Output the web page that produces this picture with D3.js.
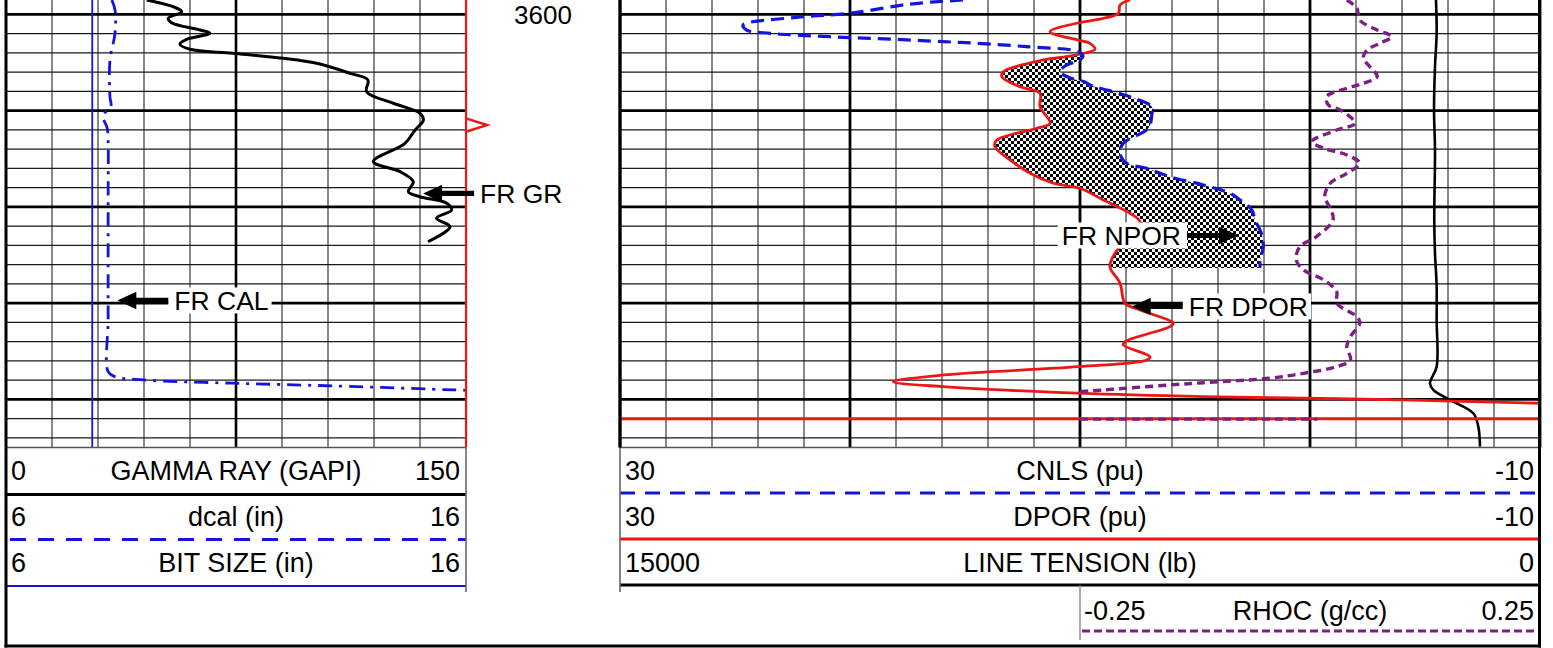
<!DOCTYPE html>
<html><head><meta charset="utf-8">
<script src="https://cdn.jsdelivr.net/npm/d3@7"></script>
<style>
html,body{margin:0;padding:0;background:#fff;}
svg{display:block;}
text{font-family:"Liberation Sans",Arial,Helvetica,sans-serif;}
</style></head><body>
<svg id="c" width="1553" height="648"></svg>
<script>
// ---------------- DATA ----------------
const depthLabels = [3600];

const grDepth = [3598.5,3599.2,3599.72,3600.4,3600.86,3601.62,3601.96,3602.58,3603.07,3603.62,3604.04,3604.56,3605.08,3606.12,3606.81,3608.03,3609.23,3610.27,3610.97,3612.01,3613.39,3615.3,3616.34,3617.38,3618.42,3618.94,3619.63,3620.32,3621.18,3622.06,3623.62];
const grValue = [45.9,54.5,57.3,52.9,54.0,63.3,66.5,58.9,56.7,60.0,74.0,90.3,101.3,112.2,118.0,117.6,126.3,135.0,136.1,133.4,130.1,119.8,128.5,132.8,131.2,135.0,143.7,145.3,140.4,144.8,137.6];

const calDepth = [3598.5,3599.54,3601.93,3604.73,3608.58,3609.51,3610.55,3611.80,3613.05,3619.28,3625.51,3631.75,3637.12,3637.64,3637.98,3638.32,3638.60,3639.02,3639.07];
const calValue = [8.30,8.37,8.37,8.26,8.26,8.28,8.11,8.20,8.22,8.22,8.22,8.22,8.22,8.37,8.98,10.94,13.11,15.76,16.09];

const bitDepth = [3598.5,3645];
const bitValue = [7.875,7.875];

const cnlsDepth = [3598.50,3598.92,3599.88,3600.30,3601.10,3601.62,3601.96,3602.14,3602.38,3602.58,3602.83,3603.00,3603.35,3603.87,3604.32,3604.73,3605.36,3605.98,3606.60,3607.02,3607.33,3608.55,3609.59,3610.45,3611.83,3613.39,3614.43,3615.47,3615.99,3616.86,3617.72,3618.58,3619.28,3620.32,3621.36,3622.92,3624.27,3625.51,3626.34];
const cnlsValue = [15.09,17.39,20.00,22.30,24.65,24.49,23.48,22.32,20.29,18.12,15.94,14.49,12.32,10.07,9.87,10.00,10.65,10.87,10.43,9.78,9.57,7.83,6.88,6.88,7.03,8.12,8.26,7.97,7.10,6.09,4.64,3.48,3.04,2.53,2.39,2.09,2.04,2.17,2.17];

const dporDepth = [3598.50,3599.02,3599.88,3600.40,3600.89,3601.79,3602.66,3603.00,3603.62,3604.01,3604.32,3604.73,3605.95,3606.47,3607.51,3608.19,3609.59,3611.31,3611.83,3613.05,3613.74,3615.12,3616.51,3617.54,3618.06,3619.28,3620.66,3621.57,3623.23,3624.82,3626.21,3627.93,3630.01,3630.71,3632.09,3632.44,3634.00,3634.34,3635.56,3635.90,3636.60,3637.46,3638.16,3638.68,3639.36,3639.72,3639.88,3640.06,3640.40];
const dporValue = [7.83,8.26,8.33,8.99,10.09,11.30,10.09,9.57,9.35,9.78,10.43,11.60,13.33,13.40,12.61,11.74,11.74,11.30,11.88,13.62,13.70,13.04,12.17,11.16,10.00,8.99,7.83,7.39,7.91,8.48,8.70,8.26,8.04,7.39,5.94,6.09,8.04,8.12,6.96,7.10,10.07,15.94,18.12,15.94,10.07,4.65,0.30,-4.04,-10.0];
const dporWrapDepth = [3642.0,3642.0];
const dporWrapValue = [30,-10];

const tensDepth = [3598.50,3601.93,3605.43,3609.93,3614.08,3621.36,3624.79,3628.29,3631.75,3636.60,3638.32,3639.02,3640.06,3641.44,3642.83,3644.91];
const tensValue = [1696,1685,1712,1728,1712,1724,1712,1685,1685,1685,1794,1740,1467,1088,1006,978];

const rhocDepth = [3598.50,3599.36,3600.58,3601.62,3602.31,3603.00,3603.69,3604.56,3605.43,3606.47,3607.15,3607.67,3608.55,3609.41,3609.93,3611.31,3612.01,3613.22,3613.91,3614.60,3615.47,3616.51,3617.54,3618.94,3620.14,3621.36,3623.09,3624.13,3625.51,3626.55,3627.59,3628.81,3630.01,3631.40,3632.09,3633.48,3634.52,3635.90,3636.60,3637.29,3637.81,3638.16,3638.50,3639.02,3639.20];
const rhocValue = [0.040,0.051,0.054,0.073,0.089,0.076,0.062,0.058,0.065,0.073,0.058,0.040,0.018,0.020,0.033,0.049,0.029,0.002,0.015,0.040,0.054,0.040,0.022,0.016,0.022,0.025,0.007,-0.011,-0.015,-0.007,0.015,0.029,0.029,0.051,0.054,0.044,0.040,0.044,0.029,-0.007,-0.044,-0.098,-0.152,-0.225,-0.250];
const rhocWrapDepth = [3642.05,3642.05];
const rhocWrapValue = [-0.25,0.008];

const markerDepths = [3611.5];

const annoText  = ["FR GR","FR CAL","FR NPOR","FR DPOR"];
const annoScale = ["gr","cal","por","por"];
const annoValue = [136.0, 8.42, 3.13, 7.75];
const annoDepth = [3618.6, 3629.72, 3622.97, 3630.34];
const annoDir   = ["left","left","right","left"];

const leftHdrLo   = ["0","6","6"];
const leftHdrName = ["GAMMA RAY (GAPI)","dcal (in)","BIT SIZE (in)"];
const leftHdrHi   = ["150","16","16"];
const rightHdrLo   = ["30","30","15000"];
const rightHdrName = ["CNLS (pu)","DPOR (pu)","LINE TENSION (lb)"];
const rightHdrHi   = ["-10","-10","0"];
const rhocHdr = ["-0.25","RHOC (g/cc)","0.25"];

// ---------------- LAYOUT ----------------
const BLUE="#1414e0", RED="#ee1515", PURPLE="#7d1e86";
const plotBottom = 447.5;
const t1 = {x0:6, x1:466}, t2 = {x0:620, x1:1540};
const svg = d3.select('#c');

const yD = d3.scaleLinear().domain([3598.5,3645]).range([0,plotBottom]);
const xGR = d3.scaleLinear().domain([0,150]).range([t1.x0,t1.x1]);
const xCAL = d3.scaleLinear().domain([6,16]).range([t1.x0,t1.x1]);
const xPOR = d3.scaleLinear().domain([30,-10]).range([t2.x0,t2.x1]);
const xTEN = d3.scaleLinear().domain([15000,0]).range([t2.x0,t2.x1]);
const xRHOC = d3.scaleLinear().domain([-0.25,0.25]).range([1080,t2.x1]);
const scales = {gr:xGR, cal:xCAL, por:xPOR};
const curve = d3.curveCatmullRom.alpha(0.5);

const defs = svg.append('defs');
defs.append('clipPath').attr('id','clip1').append('rect')
  .attr('x',t1.x0).attr('y',0).attr('width',t1.x1-t1.x0).attr('height',plotBottom);
defs.append('clipPath').attr('id','clip2').append('rect')
  .attr('x',t2.x0).attr('y',0).attr('width',t2.x1-t2.x0).attr('height',plotBottom);
const pat = defs.append('pattern').attr('id','checker').attr('width',6).attr('height',6)
  .attr('patternUnits','userSpaceOnUse');
pat.append('rect').attr('width',6).attr('height',6).attr('fill','#fff');
pat.append('rect').attr('width',3).attr('height',3).attr('fill','#000');
pat.append('rect').attr('x',3).attr('y',3).attr('width',3).attr('height',3).attr('fill','#000');

// ---------------- GRID ----------------
const grid = svg.append('g');
const depthTicks = d3.range(3600,3645,2);
const t1Ticks = d3.range(0,11).map(i=>i*15);
const t2Ticks = d3.range(0,21).map(i=>30-2*i);

grid.selectAll('.v1m').data(t1Ticks.filter(v=>v%75!==0)).join('line')
  .attr('x1',d=>xGR(d)).attr('x2',d=>xGR(d)).attr('y1',0).attr('y2',plotBottom)
  .attr('stroke','#7a7a7a').attr('stroke-width',1.8);
grid.selectAll('.v2m').data(t2Ticks.filter(v=>v%10!==0)).join('line')
  .attr('x1',d=>xPOR(d)).attr('x2',d=>xPOR(d)).attr('y1',0).attr('y2',plotBottom)
  .attr('stroke','#7a7a7a').attr('stroke-width',1.8);
[t1,t2].forEach(t=>{
  grid.append('g').selectAll('line').data(depthTicks).join('line')
    .attr('x1',t.x0).attr('x2',t.x1).attr('y1',d=>yD(d)).attr('y2',d=>yD(d))
    .attr('stroke',d=>d%10===0?'#000':'#1a1a1a').attr('stroke-width',d=>d%10===0?2.8:1.3);
});
grid.selectAll('.v1M').data([75]).join('line')
  .attr('x1',d=>xGR(d)).attr('x2',d=>xGR(d)).attr('y1',0).attr('y2',plotBottom)
  .attr('stroke','#000').attr('stroke-width',2.6);
grid.selectAll('.v2M').data(t2Ticks.filter(v=>v%10===0)).join('line')
  .attr('x1',d=>xPOR(d)).attr('x2',d=>xPOR(d)).attr('y1',0).attr('y2',plotBottom)
  .attr('stroke','#000').attr('stroke-width',2.8);

// ---------------- TRACK 1 CURVES ----------------
const g1 = svg.append('g').attr('clip-path','url(#clip1)');
const mkLine = xs => d3.line().x(d=>xs(d[1])).y(d=>yD(d[0])).curve(curve);
g1.append('path').attr('d',mkLine(xCAL)(d3.zip(bitDepth,bitValue)))
  .attr('fill','none').attr('stroke',BLUE).attr('stroke-width',1.8);
g1.append('path').attr('d',mkLine(xCAL)(d3.zip(calDepth,calValue)))
  .attr('fill','none').attr('stroke',BLUE).attr('stroke-width',2.8).attr('stroke-dasharray','14,7,3,7');
g1.append('path').attr('d',mkLine(xGR)(d3.zip(grDepth,grValue)))
  .attr('fill','none').attr('stroke','#000').attr('stroke-width',3);

// red track edge
svg.append('line').attr('x1',t1.x1).attr('x2',t1.x1).attr('y1',0).attr('y2',plotBottom)
  .attr('stroke',RED).attr('stroke-width',2.2);
svg.selectAll('.mk').data(markerDepths).join('path')
  .attr('d',d=>{const y=yD(d),x=t1.x1; return `M${x},${y-6.7}L${x+21},${y}L${x},${y+6.7}`;})
  .attr('fill','none').attr('stroke',RED).attr('stroke-width',2.5);

// ---------------- TRACK 2 CURVES ----------------
const g2 = svg.append('g').attr('clip-path','url(#clip2)');
const dporPts = d3.zip(dporDepth,dporValue);
const cnlsPts = d3.zip(cnlsDepth,cnlsValue);
defs.append('clipPath').attr('id','rightOfDpor').append('path')
  .attr('d',d3.area().y(d=>yD(d[0])).x0(d=>xPOR(d[1])).x1(t2.x1).curve(curve)(dporPts));
g2.append('path')
  .attr('d',d3.area().y(d=>yD(d[0])).x0(t2.x0).x1(d=>xPOR(d[1])).curve(curve)(cnlsPts))
  .attr('fill','url(#checker)').attr('clip-path','url(#rightOfDpor)');

g2.append('path').attr('d',mkLine(xTEN)(d3.zip(tensDepth,tensValue)))
  .attr('fill','none').attr('stroke','#000').attr('stroke-width',2.6);
g2.append('path').attr('d',mkLine(xPOR)(dporPts))
  .attr('fill','none').attr('stroke',RED).attr('stroke-width',2.8);
g2.append('path').attr('d',mkLine(xPOR)(d3.zip(dporWrapDepth,dporWrapValue)))
  .attr('fill','none').attr('stroke',RED).attr('stroke-width',3);
g2.append('path').attr('d',mkLine(xPOR)(cnlsPts))
  .attr('fill','none').attr('stroke',BLUE).attr('stroke-width',3.2).attr('stroke-dasharray','13,7');
g2.append('path').attr('d',mkLine(xRHOC)(d3.zip(rhocDepth,rhocValue)))
  .attr('fill','none').attr('stroke',PURPLE).attr('stroke-width',3.4).attr('stroke-dasharray','8,5');
g2.append('path').attr('d',mkLine(xRHOC)(d3.zip(rhocWrapDepth,rhocWrapValue)))
  .attr('fill','none').attr('stroke',PURPLE).attr('stroke-width',3.4).attr('stroke-dasharray','8,5');

// ---------------- DEPTH LABELS ----------------
svg.selectAll('.dl').data(depthLabels).join('text')
  .attr('x',(t1.x1+t2.x0)/2).attr('y',d=>yD(d)+9.3).attr('text-anchor','middle')
  .attr('font-size',26).attr('fill','#000').text(d=>d);

// ---------------- ANNOTATIONS ----------------
const annoG = svg.append('g');
const arrowLen=51, headLen=19, headHalf=8.7, shaftHalf=2.6, gap=6;
annoText.forEach((s,i)=>{
  const tx = scales[annoScale[i]](annoValue[i]);
  const ty = yD(annoDepth[i]);
  const sgn = annoDir[i]==='left'?1:-1;
  const tail = tx + sgn*arrowLen;
  const box = annoG.append('rect').attr('fill','#fff');
  const t = annoG.append('text').attr('font-size',26.5).attr('fill','#000')
    .attr('y',ty+9.3).text(s);
  if (sgn>0) t.attr('x',tail+gap).attr('text-anchor','start');
  else t.attr('x',tail-gap).attr('text-anchor','end');
  const bb = t.node().getBBox();
  const bx0 = sgn>0 ? tail : bb.x-4;
  const bx1 = sgn>0 ? bb.x+bb.width+3 : tail;
  box.attr('x',bx0).attr('y',ty-13).attr('width',bx1-bx0).attr('height',26);
  const h = tx+sgn*headLen;
  annoG.append('path').attr('d',
    `M${tx},${ty}L${h},${ty-headHalf}L${h},${ty-shaftHalf}L${tail},${ty-shaftHalf}L${tail},${ty+shaftHalf}L${h},${ty+shaftHalf}L${h},${ty+headHalf}Z`)
    .attr('fill','#000');
});

// ---------------- HEADER ----------------
const hdr = svg.append('g');
function hl(x1,x2,y,c,w,dash){hdr.append('line').attr('x1',x1).attr('x2',x2).attr('y1',y).attr('y2',y)
  .attr('stroke',c).attr('stroke-width',w).attr('stroke-dasharray',dash||null);}
function vl(x,y1,y2,c,w){hdr.append('line').attr('x1',x).attr('x2',x).attr('y1',y1).attr('y2',y2)
  .attr('stroke',c).attr('stroke-width',w);}
function tx(x,y,s,a){hdr.append('text').attr('x',x).attr('y',y).attr('text-anchor',a)
  .attr('font-size',27).attr('fill','#000').text(s);}

hl(t1.x0,t1.x1,plotBottom,'#555',1.3);
hl(t2.x0,t2.x1,plotBottom,'#555',1.3);
const rowBase = [480,526,572];
leftHdrName.forEach((n,i)=>{
  tx(t1.x0+5,rowBase[i],leftHdrLo[i],'start');
  tx((t1.x0+t1.x1)/2,rowBase[i],n,'middle');
  tx(t1.x1-6,rowBase[i],leftHdrHi[i],'end');
});
rightHdrName.forEach((n,i)=>{
  tx(t2.x0+5,rowBase[i],rightHdrLo[i],'start');
  tx((t2.x0+t2.x1)/2,rowBase[i],n,'middle');
  tx(t2.x1-6,rowBase[i],rightHdrHi[i],'end');
});
tx(1084,620,rhocHdr[0],'start');
tx((1080+t2.x1)/2,620,rhocHdr[1],'middle');
tx(t2.x1-6,620,rhocHdr[2],'end');

hl(t1.x0,t1.x1,494.5,'#000',3);
hl(t1.x0+4,t1.x1,539.5,BLUE,3.2,'16,12');
hl(t1.x0,t1.x1,586,BLUE,2);
hl(t2.x0,t2.x1,493,BLUE,3.2,'15,10');
hl(t2.x0,t2.x1,539,RED,3);
hl(t2.x0,t2.x1,585,'#000',3);
hl(1082,t2.x1,631,PURPLE,3,'8,4');
vl(t1.x1,plotBottom,592,'#666',1.6);
vl(t2.x0,plotBottom,592,'#666',1.6);
vl(1080,585,640,'#888',1.4);

// outer frame
vl(t1.x0,0,647.5,'#000',3);
vl(t2.x0,0,plotBottom,'#000',3);
vl(t2.x1-0.5,0,647.5,'#000',3);
hl(t1.x0-1.5,t2.x1+1,646,'#000',3);
</script>
</body></html>
